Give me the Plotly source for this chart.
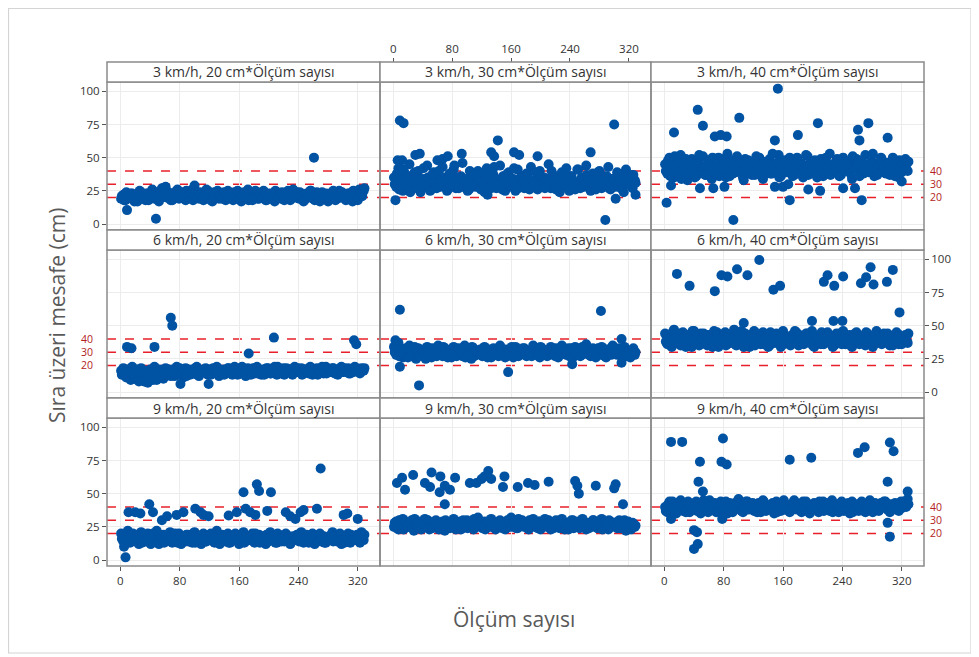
import plotly.graph_objects as go

W, H = 979, 657          # browser window
OFF = 8                  # default page body margin
FW, FH = W - OFF, H - OFF

# ---------------- data ----------------
titles = ["3 km/h, 20 cm*Ölçüm sayısı", "3 km/h, 30 cm*Ölçüm sayısı", "3 km/h, 40 cm*Ölçüm sayısı",
          "6 km/h, 20 cm*Ölçüm sayısı", "6 km/h, 30 cm*Ölçüm sayısı", "6 km/h, 40 cm*Ölçüm sayısı",
          "9 km/h, 20 cm*Ölçüm sayısı", "9 km/h, 30 cm*Ölçüm sayısı", "9 km/h, 40 cm*Ölçüm sayısı"]

olcum_a = list(range(1, 331, 3))   # measurement numbers, series a
olcum_b = list(range(2, 331, 3))   # measurement numbers, series b

x_ticks = [0, 80, 160, 240, 320]
y_ticks = [0, 25, 50, 75, 100]
ref_lines = [20, 30, 40]

p1a = [19,22,18,21,20,23,17,22,19,24,21,18,23,20,26,19,22,17,24,21,
       28,20,23,18,22,25,19,21,24,18,22,20,26,29,21,19,23,18,22,25,
       20,17,24,21,19,23,22,18,25,20,21,24,19,22,17,23,20,26,21,18,
       22,24,19,21,25,18,23,20,22,17,24,21,19,23,20,25,18,22,21,24,
       19,23,17,22,20,25,21,18,24,22,19,23,20,17,22,24,21,19,25,20,
       22,18,23,21,17,24,20,26,22,25]
p1b = [21,18,24,20,23,19,22,17,25,21,19,23,18,22,20,24,21,19,27,22,
       20,24,18,23,21,26,20,22,19,25,21,23,18,22,20,24,19,21,26,22,
       18,23,20,25,21,19,24,22,20,23,18,21,25,19,22,24,20,18,23,21,
       25,19,22,20,24,18,21,23,19,25,20,22,24,18,21,23,19,26,20,22,
       24,21,18,23,20,25,19,22,21,17,24,20,23,19,21,25,18,22,20,24,
       21,19,23,20,25,22,18,24,21,27]
out1_x = [9, 48, 261]
out1_y = [10.5, 4, 50]

p2a = [35,28,42,31,25,38,33,45,27,36,30,40,24,34,29,44,32,26,39,30,
       36,28,43,31,25,37,33,41,27,35,30,46,29,34,26,38,32,28,40,30,
       35,24,42,31,27,37,33,29,44,26,36,30,39,28,34,25,41,31,36,27,
       38,30,43,28,33,26,40,32,35,29,45,27,37,31,34,24,39,30,42,28,
       36,33,26,41,30,35,28,44,31,25,38,33,29,40,27,36,30,43,26,34,
       31,39,28,35,24,41,30,37,27,33]
p2b = [30,38,26,33,41,29,36,24,31,39,27,34,30,42,28,35,25,37,31,27,
       40,33,29,35,26,38,30,44,32,27,36,28,33,25,40,31,29,37,34,26,
       32,39,28,35,30,43,27,33,31,36,25,38,29,34,42,30,27,35,32,28,
       37,26,33,30,39,28,36,31,27,34,29,40,32,26,35,30,38,28,33,25,
       36,31,29,41,27,34,30,37,28,32,35,26,39,30,33,29,36,27,31,34,
       28,38,32,26,35,30,33,29,37,31]
out2_x = [9, 14, 3, 300, 288, 142, 93, 30, 36, 268, 133, 137, 164, 171, 196, 60, 67, 74, 6, 12, 302, 329, 128]
out2_y = [78, 76, 18, 75, 3, 63, 53, 52, 53, 54, 54, 51, 54, 52, 51, 48, 49, 51, 48, 48, 19, 22, 22]

p3a = [45,38,50,41,35,47,43,52,39,46,33,44,49,40,36,48,42,51,37,45,
       41,34,47,43,50,38,46,40,53,36,44,48,39,45,42,35,49,41,46,37,
       43,51,40,47,34,45,42,49,38,44,41,52,36,47,43,39,50,45,37,48,
       42,46,35,44,51,40,47,38,45,43,49,36,46,41,53,39,44,48,42,37,
       50,45,40,47,34,43,49,41,46,38,52,44,40,47,36,45,42,50,39,46,
       43,37,48,41,45,35,47,42,49,40]
p3b = [40,48,36,44,51,39,46,34,42,49,38,47,41,35,45,52,40,43,37,48,
       44,50,39,45,36,42,49,35,41,47,38,44,51,40,46,33,43,48,39,45,
       37,42,50,36,47,41,44,38,53,43,46,35,41,48,39,45,42,36,47,50,
       38,44,41,52,37,45,40,48,35,43,46,39,50,42,37,45,41,49,36,44,
       40,47,43,38,51,42,45,36,48,40,44,39,46,53,41,37,45,49,43,38,
       46,41,50,36,44,48,39,45,42,47]
out3_x = [153, 45, 101, 52, 13, 207, 275, 261, 263, 3, 93, 169, 266, 180, 149, 301, 68, 76, 84,
          9, 48, 66, 81, 149, 160, 167, 194, 210, 241, 257, 320]
out3_y = [102, 86, 80, 74, 69, 76, 76, 71, 63, 16, 3, 18, 18, 67, 63, 65, 66, 67, 66,
          29, 27, 27, 28, 28, 28, 30, 26, 25, 27, 27, 32]

p4a = [16,18,14,17,13,19,10,16,8,18,12,15,7,17,11,19,9,14,16,10,
       18,13,15,17,12,19,14,16,11,18,15,13,17,14,19,12,16,15,18,13,
       17,14,16,19,12,15,17,14,18,16,13,19,15,17,14,16,12,18,15,17,
       14,19,16,13,17,15,18,14,16,19,13,17,15,18,14,16,17,13,19,15,
       16,18,14,17,15,19,13,16,18,15,17,14,19,16,15,18,14,17,16,19,
       15,17,18,14,16,19,17,15,18,16]
p4b = [13,17,11,15,9,14,12,17,10,13,8,16,12,14,9,15,11,17,13,16,
       14,17,12,16,15,13,18,14,16,12,17,15,14,18,13,16,15,17,14,16,
       13,18,15,14,17,16,13,15,18,14,16,17,13,15,19,14,17,16,13,18,
       16,14,17,15,13,18,16,14,17,15,19,14,16,13,18,15,17,14,16,18,
       15,13,17,16,14,18,15,17,13,16,19,15,14,17,16,18,15,13,17,15,
       18,16,14,17,15,18,16,14,17,18]
out4_x = [68, 70, 9, 15, 46, 207, 315, 318, 173, 81, 119]
out4_y = [56, 50, 34, 33, 34, 41, 39, 36, 29, 6, 6]

p5a = [34,28,37,30,26,32,29,35,27,31,25,33,29,30,27,34,31,26,32,28,
       35,30,27,33,29,31,26,34,28,32,30,27,35,29,31,25,33,28,30,32,
       27,34,29,31,26,33,30,28,35,29,32,27,31,30,26,34,28,32,29,33,
       27,31,30,35,28,32,26,33,29,31,28,34,30,27,32,29,35,31,28,33,
       30,26,34,29,32,28,31,36,30,27,33,29,31,28,34,30,26,32,29,35,
       31,28,33,27,30,32,29,26,31,28]
p5b = [30,35,27,32,29,33,26,31,28,34,30,27,32,29,25,31,28,33,30,27,
       31,28,34,30,26,32,29,31,27,33,28,30,26,32,29,34,27,31,30,28,
       33,29,26,32,30,28,31,27,33,30,26,32,29,34,28,31,27,30,33,28,
       31,29,27,33,30,28,34,29,31,27,32,30,28,33,26,31,29,32,30,27,
       33,31,28,30,27,34,29,32,28,31,30,26,33,29,31,27,32,30,28,33,
       29,32,30,28,34,27,31,29,33,30]
out5_x = [9, 9, 35, 282, 156, 243, 310, 310, 3]
out5_y = [62, 19, 5, 61, 15, 21, 40, 22, 39]

p6a = [44,36,41,34,47,38,42,35,45,39,37,43,34,46,40,36,44,38,41,35,
       43,37,46,39,34,42,40,45,36,41,38,47,35,43,39,37,44,40,34,42,
       46,38,41,36,45,39,43,35,40,37,44,42,34,46,38,41,36,43,40,45,
       35,39,42,37,44,38,46,34,41,40,36,43,39,45,37,42,35,44,40,38,
       46,36,41,43,34,39,45,37,42,40,35,44,38,41,36,46,39,43,37,40,
       44,35,42,38,45,36,41,39,43,37]
p6b = [38,42,35,45,40,37,44,36,41,34,43,39,46,37,42,35,40,44,36,43,
       39,34,41,45,37,40,43,35,42,38,44,36,41,39,46,34,40,37,43,38,
       35,44,39,42,36,41,34,45,38,43,37,40,44,36,42,39,35,41,46,37,
       43,40,36,44,38,41,35,42,39,37,45,36,40,43,38,34,42,39,44,36,
       40,43,37,35,41,44,38,36,42,39,45,37,40,34,43,38,41,36,44,39,
       37,42,35,40,38,43,36,41,39,44]
out6_x = [17, 34, 68, 77, 85, 98, 112, 128, 147, 156, 215, 220, 229, 241, 265, 272, 278, 282,
          300, 308, 317, 107, 199, 228, 240]
out6_y = [89, 80, 76, 88, 87, 92.5, 88, 99.5, 77, 80, 83, 88, 80, 87, 82, 86.5, 94, 81,
          83, 92, 60, 52, 53.5, 53.5, 53.5]

p7a = [20,14,18,22,13,17,15,19,12,21,16,14,20,13,18,15,22,12,17,19,
       14,16,21,13,18,15,20,12,17,14,19,16,13,21,15,18,12,20,14,17,
       16,19,13,22,15,18,14,17,20,13,16,19,15,12,18,21,14,17,15,20,
       13,16,19,14,18,12,17,21,15,16,13,19,14,18,20,15,12,17,16,19,
       14,21,13,18,15,17,20,12,16,19,14,18,13,17,15,21,16,14,19,12,
       18,15,20,13,17,16,19,14,21,15]
p7b = [16,19,13,17,15,20,14,18,16,13,19,15,17,12,20,16,14,18,15,13,
       19,17,14,16,20,13,18,15,17,19,14,16,20,13,17,15,19,16,14,18,
       20,14,17,15,12,19,16,18,13,17,15,20,14,16,19,13,17,15,18,14,
       20,16,13,17,15,19,14,18,16,13,20,15,17,14,19,16,13,18,15,17,
       20,14,16,19,13,17,15,18,14,20,16,13,17,15,19,14,18,16,20,15,
       13,17,14,19,16,15,18,13,17,19]
out7_x = [7, 270, 166, 184, 187, 203, 39, 44, 11, 20, 27, 56, 63, 76, 85, 101, 108, 112, 119,
          146, 157, 169, 175, 182, 198, 223, 229, 236, 243, 247, 265, 301, 306, 320, 5]
out7_y = [2, 69, 51, 57, 52, 51, 42, 36, 36, 36, 35, 30, 33, 34, 36, 38.6, 36, 34, 33,
          33.6, 36, 38.6, 36, 34, 37, 36, 33, 31, 36, 37.6, 38.6, 34, 35, 31, 10]

p8a = [25,29,23,27,31,24,28,26,30,22,27,25,29,24,31,26,23,28,25,30,
       27,24,29,22,26,28,25,31,23,27,29,24,26,30,25,28,23,27,32,26,
       24,29,27,25,31,28,23,26,30,24,28,27,25,32,26,29,24,27,30,25,
       28,23,26,31,27,24,29,25,28,26,30,23,27,25,29,24,31,26,28,23,
       27,30,25,28,24,26,29,23,27,25,30,26,24,28,31,25,27,23,29,26,
       28,24,30,25,27,22,29,26,28,25]
p8b = [28,24,30,26,23,29,25,27,24,31,26,28,23,27,25,30,28,24,29,26,
       23,28,25,30,27,24,29,26,28,25,23,30,27,24,28,26,31,25,27,29,
       26,23,28,30,25,27,24,29,26,28,23,30,27,25,28,24,31,26,29,27,
       24,30,25,28,26,29,23,27,31,25,28,26,24,30,27,25,29,23,28,26,
       30,24,27,29,25,31,26,28,24,27,30,25,29,26,23,28,27,30,25,28,
       26,29,24,27,30,25,28,23,27,26]
out8_x = [5, 12, 16, 27, 43, 50, 52, 64, 63, 70, 77, 70, 84, 104, 113, 120, 124, 129, 133, 151, 149,
          169, 183, 192, 211, 247, 250, 252, 275, 302, 300, 312]
out8_y = [58, 62, 53, 64, 58, 55, 66, 63, 51, 56, 53, 42, 62, 58, 58, 61, 63, 67, 61, 63, 55,
          55, 58, 56.5, 59, 59.5, 56, 50, 56, 57, 54, 42]

p9a = [40,36,44,38,42,35,41,45,37,43,39,36,42,40,44,38,35,41,43,37,
       45,39,42,36,40,44,38,41,35,43,37,42,40,46,38,36,41,44,39,42,
       37,40,43,36,45,38,41,39,42,35,44,40,37,43,38,41,36,42,45,39,
       40,37,44,38,42,35,41,43,39,36,40,44,38,42,37,45,39,41,36,43,
       40,38,42,35,44,39,41,37,43,40,36,42,45,38,41,39,37,43,40,44,
       38,36,42,39,41,37,44,40,43,46]
p9b = [37,42,39,44,36,40,43,38,41,36,44,40,38,43,37,42,39,45,40,36,
       41,38,43,40,37,42,39,44,38,41,36,43,39,42,37,40,44,38,41,43,
       39,36,42,40,44,37,41,38,43,40,36,42,39,45,38,41,37,43,40,38,
       42,36,40,44,37,41,39,42,38,44,40,37,43,39,41,36,42,40,38,44,
       37,41,43,39,36,42,40,38,44,37,41,39,42,36,43,40,38,41,44,39,
       42,37,40,43,38,41,39,44,40,42]
out9_x = [9, 24, 79, 77, 84, 48, 46, 40, 44, 40, 45, 169, 198, 261, 270, 304, 309, 301, 304, 301,
          9, 78, 328, 52]
out9_y = [89, 89, 91.6, 74, 72, 74, 59, 22.5, 21, 8.4, 12, 75.5, 77, 80.7, 85, 88.6, 82, 59, 17.5, 28,
          31, 31, 51.6, 51.6]

bands = [(p1a, p1b), (p2a, p2b), (p3a, p3b), (p4a, p4b), (p5a, p5b),
         (p6a, p6b), (p7a, p7b), (p8a, p8b), (p9a, p9b)]
outs = [(out1_x, out1_y), (out2_x, out2_y), (out3_x, out3_y), (out4_x, out4_y), (out5_x, out5_y),
        (out6_x, out6_y), (out7_x, out7_y), (out8_x, out8_y), (out9_x, out9_y)]

# ---------------- layout geometry (window pixels) ----------------
col_px = [(107, 380), (380, 651), (651, 924)]
row_px = [(82, 230), (250, 398), (418, 566)]
strip_px = [(62, 82), (230, 250), (398, 418)]
XR = [-18, 350]
YR = [-4.5, 107]

BLUE = "#0052A3"
BORDER = "#8a8a8a"
GRID = "#ececec"
TXT = "#333333"
RED = "#E8202A"
REDTXT = "#B22222"
FONT = "Open Sans"
MSIZE = 10


def px2x(p):
    return (p - OFF) / FW


def py2y(p):
    return 1 - (p - OFF) / FH


fig = go.Figure()
layout = dict(width=FW, height=FH, margin=dict(l=0, r=0, t=0, b=0),
              paper_bgcolor="white", plot_bgcolor="white", showlegend=False,
              font=dict(family=FONT, size=11, color=TXT))
shapes = []
annotations = []

for k in range(9):
    r, c = divmod(k, 3)
    n = k + 1
    xa = f"x{n}" if n > 1 else "x"
    ya = f"y{n}" if n > 1 else "y"
    for j, ys in enumerate(bands[k]):
        xs = olcum_a if j == 0 else olcum_b
        fig.add_trace(go.Scatter(x=xs, y=ys, mode="markers", xaxis=xa, yaxis=ya,
                                 marker=dict(color=BLUE, size=MSIZE, line=dict(width=0)),
                                 hoverinfo="x+y"))
    ox, oy = outs[k]
    fig.add_trace(go.Scatter(x=ox, y=oy, mode="markers", xaxis=xa, yaxis=ya,
                             marker=dict(color=BLUE, size=MSIZE, line=dict(width=0)),
                             hoverinfo="x+y"))

    xkey = f"xaxis{n}" if n > 1 else "xaxis"
    ykey = f"yaxis{n}" if n > 1 else "yaxis"
    xd = [px2x(col_px[c][0]), px2x(col_px[c][1])]
    yd = [py2y(row_px[r][1]), py2y(row_px[r][0])]
    xaxis = dict(domain=xd, range=XR, anchor=ya, tickvals=x_ticks, showgrid=True,
                 gridcolor=GRID, gridwidth=1, zeroline=False, showline=False,
                 showticklabels=False, ticks="", fixedrange=True)
    yaxis = dict(domain=yd, range=YR, anchor=xa, tickvals=y_ticks, showgrid=True,
                 gridcolor=GRID, gridwidth=1, zeroline=False, showline=False,
                 showticklabels=False, ticks="", fixedrange=True)
    tick_common = dict(showticklabels=True, ticks="outside", ticklen=4, tickwidth=1,
                       tickcolor="#555555", tickfont=dict(family=FONT, size=11.5, color=TXT))
    if (r, c) == (0, 1):
        xaxis.update(tick_common)
        xaxis.update(side="top", anchor="free", position=py2y(strip_px[0][0]))
    if r == 2 and c in (0, 2):
        xaxis.update(tick_common)
        xaxis.update(side="bottom")
    if c == 0 and r in (0, 2):
        yaxis.update(tick_common)
        yaxis.update(side="left")
    if (r, c) == (1, 2):
        yaxis.update(tick_common)
        yaxis.update(side="right")
    layout[xkey] = xaxis
    layout[ykey] = yaxis

    for v in ref_lines:
        shapes.append(dict(type="line", xref=f"{xa} domain", yref=ya, x0=0, x1=1, y0=v, y1=v,
                           line=dict(color=RED, width=1.6, dash="dash"), layer="below"))
    shapes.append(dict(type="rect", xref="paper", yref="paper",
                       x0=xd[0], x1=xd[1], y0=yd[0], y1=yd[1],
                       line=dict(color=BORDER, width=1.5), layer="above"))
    sy0, sy1 = py2y(strip_px[r][1]), py2y(strip_px[r][0])
    shapes.append(dict(type="rect", xref="paper", yref="paper",
                       x0=xd[0], x1=xd[1], y0=sy0, y1=sy1,
                       fillcolor="white", line=dict(color=BORDER, width=1.5), layer="above"))
    annotations.append(dict(text=titles[k], xref="paper", yref="paper",
                            x=(xd[0] + xd[1]) / 2, y=(sy0 + sy1) / 2, showarrow=False,
                            xanchor="center", yanchor="middle",
                            font=dict(family=FONT, size=14, color=TXT)))

    if (r, c) in ((0, 2), (2, 2)):
        for v in ref_lines:
            annotations.append(dict(text=str(v), xref="paper", yref=ya, x=px2x(928), y=v,
                                    xanchor="left", yanchor="middle", showarrow=False,
                                    font=dict(family=FONT, size=10.5, color=REDTXT)))
    if (r, c) == (1, 0):
        for v in ref_lines:
            annotations.append(dict(text=str(v), xref="paper", yref=ya, x=px2x(95), y=v,
                                    xanchor="right", yanchor="middle", showarrow=False,
                                    font=dict(family=FONT, size=10.5, color=REDTXT)))

# outer frame
shapes.append(dict(type="rect", xref="paper", yref="paper",
                   x0=px2x(8.5), x1=px2x(971), y0=py2y(653), y1=py2y(8.5),
                   line=dict(color="#d4d4d4", width=1.2), layer="below"))

annotations.append(dict(text="Sıra üzeri mesafe (cm)", xref="paper", yref="paper",
                        x=px2x(57), y=py2y(315), textangle=-90, showarrow=False,
                        xanchor="center", yanchor="middle",
                        font=dict(family=FONT, size=21, color="#595959")))
annotations.append(dict(text="Ölçüm sayısı", xref="paper", yref="paper",
                        x=px2x(514), y=py2y(619), showarrow=False,
                        xanchor="center", yanchor="middle",
                        font=dict(family=FONT, size=21, color="#595959")))

layout["shapes"] = shapes
layout["annotations"] = annotations
fig.update_layout(**layout)
fig.write_html("out.html")
